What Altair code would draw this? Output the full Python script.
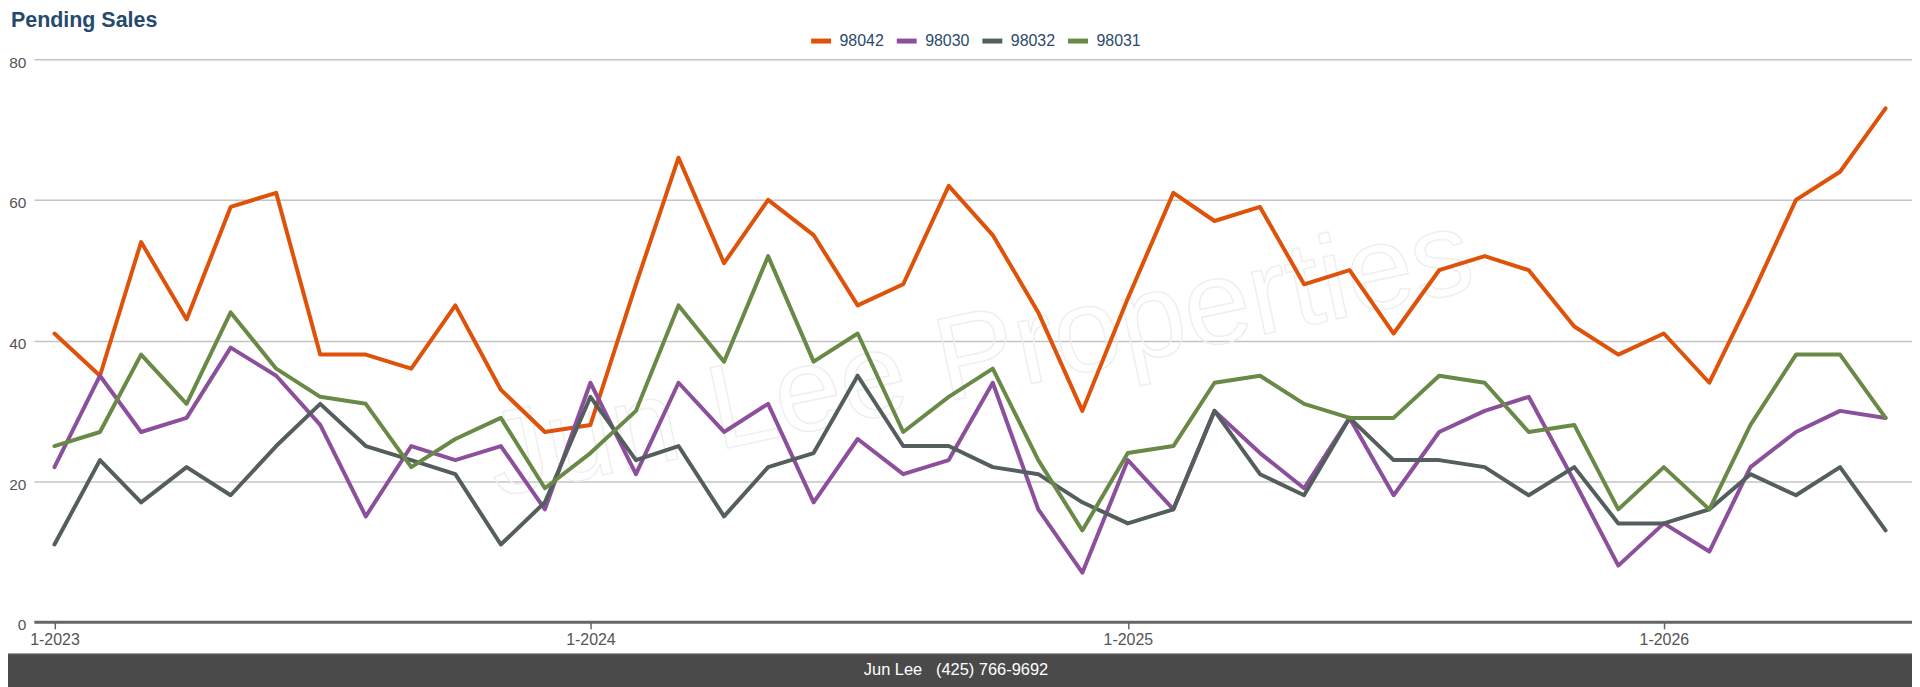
import altair as alt
import pandas as pd

# ---- data ----
months = [
    "2023-01-01", "2023-02-01", "2023-03-01", "2023-04-01", "2023-05-01", "2023-06-01",
    "2023-07-01", "2023-08-01", "2023-09-01", "2023-10-01", "2023-11-01", "2023-12-01",
    "2024-01-01", "2024-02-01", "2024-03-01", "2024-04-01", "2024-05-01", "2024-06-01",
    "2024-07-01", "2024-08-01", "2024-09-01", "2024-10-01", "2024-11-01", "2024-12-01",
    "2025-01-01", "2025-02-01", "2025-03-01", "2025-04-01", "2025-05-01", "2025-06-01",
    "2025-07-01", "2025-08-01", "2025-09-01", "2025-10-01", "2025-11-01", "2025-12-01",
    "2026-01-01", "2026-02-01", "2026-03-01", "2026-04-01", "2026-05-01", "2026-06-01",
]
zip_98042 = [41, 35, 54, 43, 59, 61, 38, 38, 36, 45, 33, 27,
             28, 48, 66, 51, 60, 55, 45, 48, 62, 55, 44, 30,
             46, 61, 57, 59, 48, 50, 41, 50, 52, 50, 42, 38,
             41, 34, 46, 60, 64, 73]
zip_98030 = [22, 35, 27, 29, 39, 35, 28, 15, 25, 23, 25, 16,
             34, 21, 34, 27, 31, 17, 26, 21, 23, 34, 16, 7,
             23, 16, 30, 24, 19, 29, 18, 27, 30, 32, 20, 8,
             14, 10, 22, 27, 30, 29]
zip_98032 = [11, 23, 17, 22, 18, 25, 31, 25, 23, 21, 11, 17,
             32, 23, 25, 15, 22, 24, 35, 25, 25, 22, 21, 17,
             14, 16, 30, 21, 18, 29, 23, 23, 22, 18, 22, 14,
             14, 16, 21, 18, 22, 13]
zip_98031 = [25, 27, 38, 31, 44, 36, 32, 31, 22, 26, 29, 19,
             24, 30, 45, 37, 52, 37, 41, 27, 32, 36, 23, 13,
             24, 25, 34, 35, 31, 29, 29, 35, 34, 27, 28, 16,
             22, 16, 28, 38, 38, 29]

series_names = ["98042", "98030", "98032", "98031"]
series_colors = ["#de5209", "#8c4f9c", "#545e5d", "#688a46"]
title_text = "Pending Sales"
footer_text = "Jun Lee\u00a0\u00a0\u00a0(425) 766-9692"
watermark_text = "Jun Lee Properties"

series_values = [zip_98042, zip_98030, zip_98032, zip_98031]
rows = []
for name, vals in zip(series_names, series_values):
    for m, v in zip(months, vals):
        rows.append({"month": m, "zip": name, "sales": v})
df = pd.DataFrame(rows)

W, H = 1886, 565
FONT = "Liberation Sans"

x_scale = alt.Scale(
    type="utc",
    domain=[alt.DateTime(year=2022, month=12, date=18, utc=True),
            alt.DateTime(year=2026, month=6, date=19, utc=True)],
)
year_ticks = [alt.DateTime(year=y, month=1, date=1, utc=True) for y in (2023, 2024, 2025, 2026)]

lines = alt.Chart(df).mark_line(strokeWidth=4, strokeJoin="round", strokeCap="round").encode(
    x=alt.X("month:T", scale=x_scale,
            axis=alt.Axis(values=year_ticks,
                          labelExpr="(utcmonth(datum.value) + 1) + '-' + utcyear(datum.value)",
                          title=None, grid=False, domainColor="#666666", domainWidth=3,
                          tickColor="#666666", tickSize=7, tickWidth=1.5, labelFontSize=16,
                          labelColor="#555555", labelPadding=3, labelFont=FONT,
                          labelFlush=False)),
    y=alt.Y("sales:Q", scale=alt.Scale(domain=[0, 80], nice=False),
            axis=alt.Axis(values=[0, 20, 40, 60, 80], title=None, domain=False, ticks=False,
                          gridColor="#c4c4c4", gridWidth=1.5, labelFontSize=15.5,
                          labelColor="#555555", labelPadding=8, labelOffset=3,
                          labelFont=FONT)),
    color=alt.Color("zip:N",
                    scale=alt.Scale(domain=series_names, range=series_colors),
                    sort=series_names,
                    legend=alt.Legend(title=None, orient="none", direction="horizontal",
                                      legendX=778, legendY=-31, symbolType="stroke",
                                      symbolStrokeWidth=5, symbolSize=400,
                                      labelFontSize=16, labelColor="#2b4a6c", labelFont=FONT,
                                      columnPadding=2, labelOffset=6)),
    order=alt.Order("month:T"),
)

wm_df = pd.DataFrame({"t": [watermark_text]})
watermark = alt.Chart(wm_df).mark_text(
    fontSize=120, font=FONT, angle=348, fill="#ffffff", fillOpacity=0,
    stroke="#efefef", strokeWidth=1.5, align="center", baseline="middle",
).encode(x=alt.value(950), y=alt.value(300), text="t:N")

foot_df = pd.DataFrame({"t": [footer_text]})
footer_bar = alt.Chart(foot_df).mark_rect(color="#4a4a4a").encode(
    x=alt.value(-26), x2=alt.value(W + 7), y=alt.value(H + 32), y2=alt.value(H + 72),
)
footer_line = alt.Chart(foot_df).mark_rule(color="#8a8a8a", strokeWidth=1).encode(
    x=alt.value(-26), x2=alt.value(W + 7), y=alt.value(H + 32),
)
footer_txt = alt.Chart(foot_df).mark_text(
    color="#ffffff", fontSize=16.5, font=FONT, align="center", baseline="middle",
).encode(x=alt.value(926), y=alt.value(H + 48), text="t:N")

chart = alt.layer(watermark, lines, footer_bar, footer_line, footer_txt).properties(
    width=W, height=H,
    title=alt.TitleParams(title_text, anchor="start", frame="group", dx=-23, offset=-3,
                          fontSize=21.5, font=FONT, fontWeight="bold", color="#254a6e"),
    autosize=alt.AutoSizeParams(type="none"),
    padding={"left": 26, "top": 50, "right": 0, "bottom": 72},
).configure_view(stroke=None)

chart.save("out.html", embed_options={"renderer": "svg", "actions": False})
